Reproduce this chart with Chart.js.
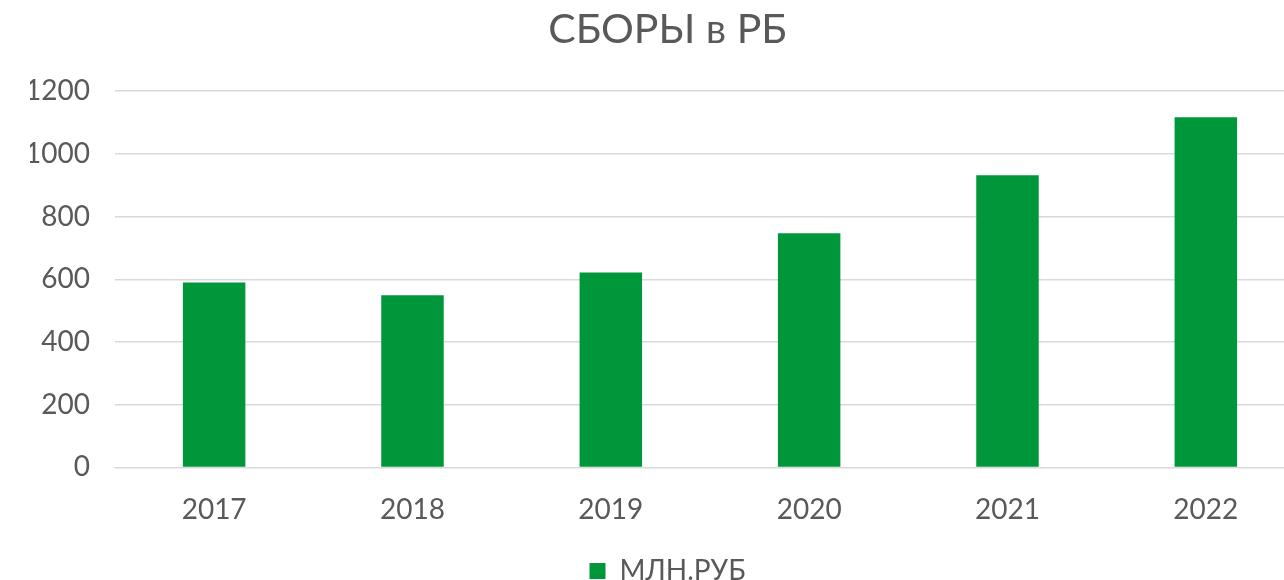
<!DOCTYPE html>
<html>
<head>
<meta charset="utf-8">
<script src="https://cdn.jsdelivr.net/npm/chart.js@4"></script>
<style>
  html, body { margin: 0; padding: 0; background: #fff; overflow: hidden; }
  #wrap { width: 1284px; height: 580px; overflow: hidden; }
</style>
</head>
<body>
<div id="wrap">
  <canvas id="js--chart" width="1336" height="595"></canvas>
</div>
<script>
const years = ["2017", "2018", "2019", "2020", "2021", "2022"];
const sbory = [590, 549, 622, 747, 932, 1117];
const yTicks = [0, 200, 400, 600, 800, 1000, 1200];

const data = {
    labels: years,
    datasets: [{
        label: "МЛН.РУБ",
        data: sbory,
        backgroundColor: "#00963A",
        borderWidth: 0,
        categoryPercentage: 1,
        barPercentage: 0.315
    }]
};

const config = {
    type: "bar",
    data: data,
    options: {
        responsive: false,
        animation: false,
        // title/legend centre on the padded box, so pad left and shrink the y axis by the same amount
        layout: { padding: { left: 30, right: 31, top: 0, bottom: 0 } },
        plugins: {
            title: {
                display: true,
                text: "СБОРЫ в РБ",
                color: "#595959",
                font: { family: "Lato", size: 41, weight: "normal" },
                padding: { top: 5, bottom: 37 }
            },
            legend: {
                position: "bottom",
                labels: {
                    color: "#595959",
                    font: { family: "Lato", size: 28 },
                    boxWidth: 16,
                    boxHeight: 16,
                    padding: 12
                }
            },
            tooltip: { enabled: false }
        },
        scales: {
            x: {
                grid: { display: false },
                border: { display: true, color: "#d9d9d9", width: 1 },
                ticks: {
                    color: "#595959",
                    font: { family: "Lato", size: 28 },
                    padding: 18
                }
            },
            y: {
                min: yTicks[0],
                max: yTicks[yTicks.length - 1],
                afterBuildTicks: function (axis) {
                    axis.ticks = yTicks.map(v => ({ value: v }));
                },
                afterFit: function (axis) {
                    axis.width -= 30;
                },
                grid: { color: "#d9d9d9", lineWidth: 1.5, drawTicks: false },
                border: { display: false },
                ticks: {
                    color: "#595959",
                    font: { family: "Lato", size: 28 },
                    padding: 25,
                    callback: function (value) {
                        return String(value);
                    }
                }
            }
        }
    }
};

new Chart(document.getElementById("js--chart"), config);
</script>
</body>
</html>
